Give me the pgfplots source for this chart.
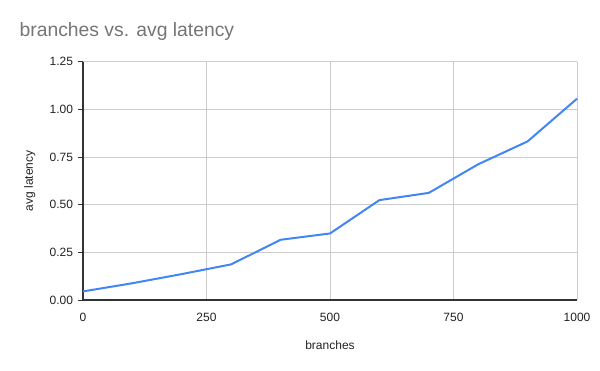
\documentclass[border=0pt]{standalone}
\usepackage{fontspec}
\setmainfont{Liberation Sans}
\usepackage{pgfplots}
\pgfplotsset{compat=1.18}
\definecolor{lineblue}{HTML}{4285F4}
\definecolor{titlegrey}{HTML}{757575}
\definecolor{gridgrey}{HTML}{CCCCCC}
\definecolor{axisdark}{HTML}{333333}
\definecolor{labeldark}{HTML}{222222}
\begin{document}
\begin{tikzpicture}
\useasboundingbox (0pt,0pt) rectangle (450pt,278.25pt);
\node[anchor=west,text=titlegrey,font=\fontsize{14.5pt}{17pt}\selectfont,inner sep=0pt] at (14.5pt,254.25pt) {branches vs. avg latency};
\begin{axis}[
  at={(62.25pt,53.25pt)}, anchor=south west,
  scale only axis, width=370.5pt, height=178.7pt,
  xmin=0, xmax=1000, ymin=0, ymax=1.25,
  xtick={0,250,500,750,1000},
  ytick={0,0.25,0.5,0.75,1,1.25},
  /pgf/number format/assume math mode=true,
  xticklabel style={/pgf/number format/1000 sep={}, font=\fontsize{9pt}{10pt}\selectfont, text=labeldark},
  yticklabel style={/pgf/number format/fixed, /pgf/number format/fixed zerofill, /pgf/number format/precision=2, font=\fontsize{9pt}{10pt}\selectfont, text=labeldark},
  grid=major,
  major grid style={gridgrey, line width=0.75pt},
  axis x line*=bottom, axis y line*=left,
  axis line style={axisdark, line width=0.9pt, -},
  xtick style={draw=none},
  ytick style={axisdark, line width=0.6pt},
  tick align=outside,
  major tick length=4pt,
  xlabel={branches}, ylabel={avg latency},
  xlabel style={font=\fontsize{9pt}{10pt}\selectfont, text=labeldark, at={(axis description cs:0.5,0)}, anchor=center, yshift=-34pt},
  ylabel style={font=\fontsize{9pt}{10pt}\selectfont, text=labeldark, at={(axis description cs:0,0.5)}, anchor=center, yshift=40pt},
  xticklabel shift=2pt,
  clip=false,
]
\addplot[lineblue, line width=1.5pt, line join=round] coordinates {
(0,0.045) (100,0.088) (200,0.136) (300,0.187) (400,0.316) (500,0.349)
(600,0.524) (700,0.562) (800,0.712) (900,0.832) (1000,1.056)
};
\end{axis}
\end{tikzpicture}
\end{document}
